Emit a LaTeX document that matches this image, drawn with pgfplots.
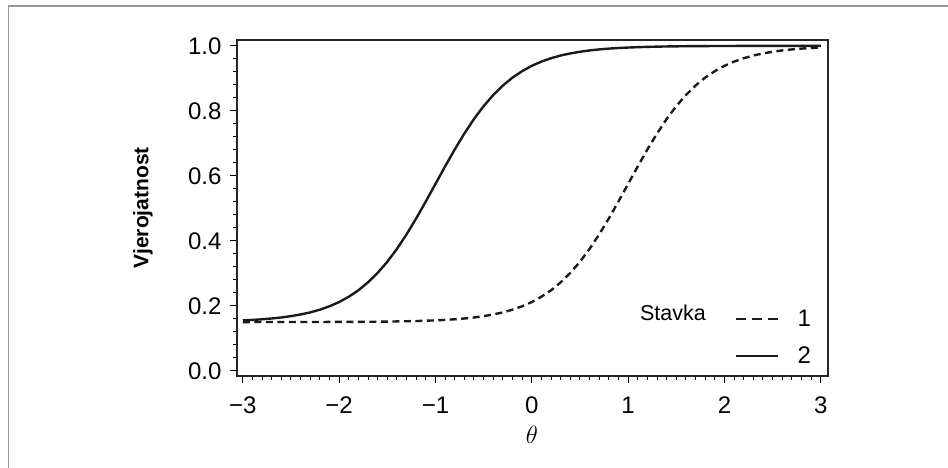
\documentclass[border=0pt]{standalone}
\usepackage{fontspec}
\setmainfont{Liberation Sans}
\usepackage{pgfplots}
\pgfplotsset{compat=1.18}
\definecolor{curve}{HTML}{1A1A1A}
\definecolor{framegray}{HTML}{9A9A9A}
\begin{document}
\begin{tikzpicture}[x=1pt,y=1pt]
\path[use as bounding box] (0,0) rectangle (948,468);
\draw[framegray, line width=1.6pt] (8.5,-5) -- (8.5,462) -- (960,462);
\begin{axis}[
  at={(237pt,92pt)}, anchor=south west,
  scale only axis, width=591pt, height=336pt,
  xmin=-3.06, xmax=3.075, ymin=-0.016, ymax=1.018,
  xtick={-3,-2,-1,0,1,2,3},
  xticklabels={−3,−2,−1,0,1,2,3},
  ytick={0,0.2,0.4,0.6,0.8,1.0},
  yticklabels={0.0,0.2,0.4,0.6,0.8,1.0},
  minor x tick num=9, minor y tick num=4,
  tick align=outside, tick pos=left,
  major tick length=7pt, minor tick length=4pt,
  every tick/.style={black, line width=1pt},
  axis line style={line width=1.3pt, black!85},
  ticklabel style={font=\fontsize{24}{28}\selectfont, text=black},
  xticklabel style={yshift=-10pt},
  yticklabel style={xshift=-5pt},
  xlabel={$\theta$},
  xlabel style={font=\fontsize{25}{29}\selectfont, at={(axis cs:0,-0.016)}, anchor=center, yshift=-59pt},
  ylabel={\bfseries Vjerojatnost},
  ylabel style={font=\fontsize{21}{24}\selectfont, at={(axis description cs:-0.159,0.5)}, anchor=center},
  legend style={draw=none, fill=none, font=\fontsize{24}{28}\selectfont, at={(axis cs:2.11,0.194)}, anchor=north west, row sep=15pt, column sep=16pt, inner sep=0pt},
  legend cell align=left,
  legend image code/.code={\draw[#1] (0pt,0pt) -- (42pt,0pt);},
]
\addplot[curve, line width=2.4pt, dash pattern=on 7pt off 4.5pt, forget plot] coordinates {
(-3.0,0.1500) (-2.5,0.1501) (-2.0,0.1504) (-1.8,0.1507) (-1.6,0.1511) (-1.4,0.1519) (-1.2,0.1531)
(-1.0,0.1552) (-0.9,0.1566) (-0.8,0.1585) (-0.7,0.1610) (-0.6,0.1641) (-0.5,0.1682) (-0.4,0.1733)
(-0.3,0.1797) (-0.2,0.1881) (-0.1,0.1985) (0.0,0.2115) (0.1,0.2279) (0.2,0.2477) (0.3,0.2722)
(0.4,0.3013) (0.5,0.3356) (0.6,0.3752) (0.7,0.4199) (0.8,0.4689) (0.9,0.5211) (1.0,0.5750)
(1.1,0.6289) (1.2,0.6811) (1.3,0.7301) (1.4,0.7748) (1.5,0.8144) (1.6,0.8487) (1.7,0.8778)
(1.8,0.9023) (1.9,0.9221) (2.0,0.9385) (2.1,0.9515) (2.2,0.9619) (2.3,0.9703) (2.4,0.9767)
(2.5,0.9818) (2.6,0.9859) (2.7,0.9890) (2.8,0.9915) (2.9,0.9934) (3.0,0.9948)
};
\addplot[curve, line width=2.4pt, forget plot] coordinates {
(-3.0,0.1552) (-2.9,0.1566) (-2.8,0.1585) (-2.7,0.1610) (-2.6,0.1641) (-2.5,0.1682) (-2.4,0.1733)
(-2.3,0.1797) (-2.2,0.1881) (-2.1,0.1985) (-2.0,0.2115) (-1.9,0.2279) (-1.8,0.2477) (-1.7,0.2722)
(-1.6,0.3013) (-1.5,0.3356) (-1.4,0.3752) (-1.3,0.4199) (-1.2,0.4689) (-1.1,0.5211) (-1.0,0.5750)
(-0.9,0.6289) (-0.8,0.6811) (-0.7,0.7301) (-0.6,0.7748) (-0.5,0.8144) (-0.4,0.8487) (-0.3,0.8778)
(-0.2,0.9023) (-0.1,0.9221) (0.0,0.9385) (0.1,0.9515) (0.2,0.9619) (0.3,0.9703) (0.4,0.9767)
(0.5,0.9818) (0.6,0.9859) (0.7,0.9890) (0.8,0.9915) (0.9,0.9934) (1.0,0.9948) (1.2,0.9969)
(1.4,0.9981) (1.6,0.9989) (1.8,0.9993) (2.0,0.9996) (2.5,0.9999) (3.0,1.0000)
};
\addlegendimage{curve, line width=2.4pt, dash pattern=on 10pt off 6pt}
\addlegendentry{1}
\addlegendimage{curve, line width=2.4pt}
\addlegendentry{2}
\node[font=\fontsize{21.5}{25}\selectfont, anchor=center] at (axis cs:1.466,0.178) {Stavka};
\end{axis}
\end{tikzpicture}
\end{document}
